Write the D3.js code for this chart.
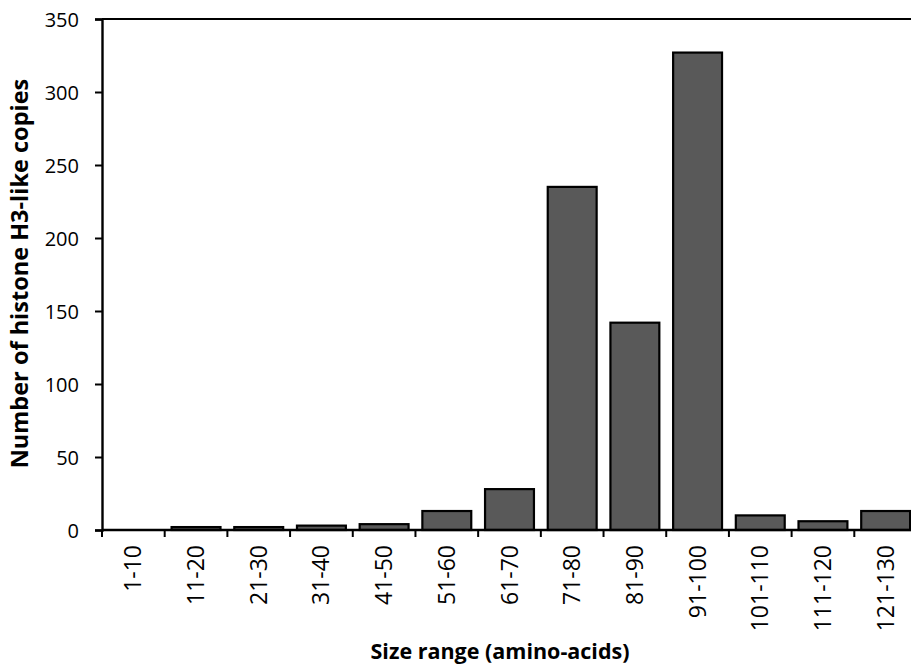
<!DOCTYPE html>
<html>
<head>
<meta charset="utf-8">
<script src="https://cdn.jsdelivr.net/npm/d3@7"></script>
<style>
  body { margin: 0; background: #fff; }
  svg text { font-family: "Open Sans", sans-serif; fill: #000; }
  .axisTitle { font-weight: bold; }
</style>
</head>
<body>
<div id="chart"></div>
<script>
// size classes and copy counts
var sizeRanges = ["1-10", "11-20", "21-30", "31-40", "41-50", "51-60", "61-70",
  "71-80", "81-90", "91-100", "101-110", "111-120", "121-130"];
var copies = [0, 2, 2, 3, 4, 13, 28, 235, 142, 327, 10, 6, 13];
var yTicks = [0, 50, 100, 150, 200, 250, 300, 350];

var svgWidth = 911;
var svgHeight = 667;
var margin = {top: 19, right: -6, bottom: 137, left: 102};
var width = svgWidth - margin.left - margin.right;
var height = svgHeight - margin.top - margin.bottom;

var svg = d3.select("#chart").append("svg")
  .attr("width", svgWidth).attr("height", svgHeight);

var chartGroup = svg.append("g")
  .attr("transform", `translate(${margin.left}, ${margin.top})`);

var xScale = d3.scaleBand()
  .domain(sizeRanges)
  .range([0, width])
  .paddingInner(0.22)
  .paddingOuter(0.11);

var yScale = d3.scaleLinear()
  .domain([0, 350])
  .range([height, 0]);

// bars
chartGroup.selectAll("rect")
  .data(copies)
  .enter()
  .append("rect")
  .attr("x", (d, i) => xScale(sizeRanges[i]))
  .attr("y", d => yScale(d))
  .attr("width", xScale.bandwidth())
  .attr("height", d => height - yScale(d))
  .attr("fill", "#595959")
  .attr("stroke", "#000")
  .attr("stroke-width", 2.2);

// top border line
chartGroup.append("line")
  .attr("x1", 0).attr("x2", width)
  .attr("y1", yScale(350)).attr("y2", yScale(350))
  .attr("stroke", "#000").attr("stroke-width", 2);

// y axis
var leftAxis = d3.axisLeft(yScale).tickValues(yTicks).tickSize(7).tickPadding(16);
var yAxisG = chartGroup.append("g").call(leftAxis);
yAxisG.select(".domain").attr("stroke-width", 2.4);
yAxisG.selectAll(".tick line").attr("stroke-width", 2);
yAxisG.selectAll(".tick text").style("font-size", "20px").attr("dy", "0.35em");

// x axis: ticks sit on the band boundaries
var step = xScale.step();
var xAxisG = chartGroup.append("g").attr("transform", `translate(0, ${height})`);
xAxisG.append("line")
  .attr("x1", 0).attr("x2", width)
  .attr("stroke", "#000").attr("stroke-width", 2.4);
xAxisG.selectAll(".xtick")
  .data(d3.range(sizeRanges.length + 1))
  .enter()
  .append("line")
  .attr("x1", i => i * step).attr("x2", i => i * step)
  .attr("y1", 0).attr("y2", 7)
  .attr("stroke", "#000").attr("stroke-width", 2);
xAxisG.selectAll(".xlabel")
  .data(sizeRanges)
  .enter()
  .append("text")
  .attr("transform", d => `translate(${xScale(d) + xScale.bandwidth() / 2}, 15) rotate(-90)`)
  .attr("text-anchor", "end")
  .attr("dy", "0.35em")
  .style("font-size", "23px")
  .text(d => d);

// axis titles
chartGroup.append("text")
  .attr("class", "axisTitle")
  .style("font-size", "21.5px")
  .attr("x", 398).attr("y", height + 129)
  .attr("text-anchor", "middle")
  .text("Size range (amino-acids)");

chartGroup.append("text")
  .attr("class", "axisTitle")
  .style("font-size", "23.5px")
  .attr("transform", `translate(-74, ${height / 2 - 1}) rotate(-90)`)
  .attr("text-anchor", "middle")
  .text("Number of histone H3-like copies");
</script>
</body>
</html>
